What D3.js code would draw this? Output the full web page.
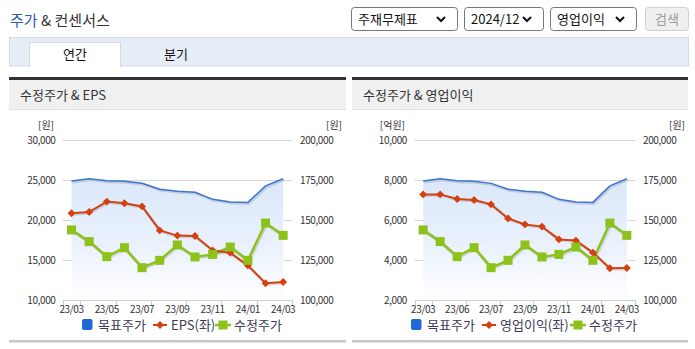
<!DOCTYPE html>
<html><head><meta charset="utf-8">
<script src="https://cdn.jsdelivr.net/npm/d3@7"></script>
<style>
html,body{margin:0;padding:0;background:#fff;}
svg{display:block;}
text{font-family:"Noto Sans CJK KR","Noto Sans",sans-serif;}
</style></head>
<body>
<svg id="c" width="695" height="349"></svg>
<script>
// ---- data ----
const months = ["23/03","23/04","23/05","23/06","23/07","23/08","23/09","23/10","23/11","23/12","24/01","24/02","24/03"];
const leftTickLabels  = ["23/03","23/05","23/07","23/09","23/11","24/01","24/03"];
const rightTickLabels = ["23/03","23/06","23/07","23/09","23/11","24/01","24/03"];
const targetPrice   = [174400,175800,174600,174200,172900,169200,167900,167300,162900,161300,161000,171300,175800];
const adjPrice      = [143800,136500,127100,132700,120200,124800,134400,126900,128500,133100,124800,148100,140400];
const eps           = [20850,21000,22300,22100,21700,18700,18050,18000,16200,15900,14300,12100,12250];
const opIncome      = [7280,7280,7050,7000,6780,6080,5780,5670,5030,4970,4370,3590,3600];
const epsTicks      = [10000,15000,20000,25000,30000];
const opTicks       = [2000,4000,6000,8000,10000];
const priceTicks    = [100000,125000,150000,175000,200000];

const svg = d3.select("#c");
const fmt = d3.format(",");
const NUMFONT = "Liberation Sans, Arial, sans-serif";

// ---- header ----
const title = svg.append("text").attr("x",10).attr("y",26).attr("font-size",15);
title.append("tspan").attr("fill","#2a5db0").text("주가");
title.append("tspan").attr("fill","#333").text(" & 컨센서스");

// selects
function selectBox(x,w,label){
  svg.append("rect").attr("x",x+0.5).attr("y",7.5).attr("width",w).attr("height",23).attr("rx",3)
    .attr("fill","#fff").attr("stroke","#767676");
  svg.append("text").attr("x",x+7).attr("y",24).attr("font-size",13).attr("fill","#111").text(label);
  const cx = x+w-16, cy=19;
  svg.append("path").attr("d",`M${cx-4},${cy-2}L${cx},${cy+2}L${cx+4},${cy-2}`)
    .attr("fill","none").attr("stroke","#111").attr("stroke-width",2);
}
selectBox(351,106,"주재무제표");
selectBox(464,79,"2024/12");
selectBox(550,86,"영업이익");
svg.append("rect").attr("x",645.5).attr("y",7.5).attr("width",43).attr("height",23).attr("rx",3)
  .attr("fill","#efefef").attr("stroke","#d0d0d0");
svg.append("text").attr("x",667).attr("y",24).attr("text-anchor","middle").attr("font-size",13).attr("fill","#9a9a9a").text("검색");

// tabs
svg.append("rect").attr("x",9.5).attr("y",37.5).attr("width",679).attr("height",28.5)
  .attr("fill","#e8eef8").attr("stroke","#d3dbe8");
svg.append("rect").attr("x",29.5).attr("y",42.5).attr("width",91).attr("height",24)
  .attr("fill","#fff").attr("stroke","#d3dbe8");
svg.append("rect").attr("x",30).attr("y",65).attr("width",90).attr("height",2).attr("fill","#fff");
svg.append("text").attr("x",75).attr("y",59).attr("text-anchor","middle").attr("font-size",13).attr("fill","#111").text("연간");
svg.append("text").attr("x",176).attr("y",59).attr("text-anchor","middle").attr("font-size",13).attr("fill","#111").text("분기");

// ---- panels ----
function panel(cfg){
  const g = svg.append("g");
  g.append("rect").attr("x",cfg.px0).attr("y",77).attr("width",cfg.px1-cfg.px0).attr("height",3).attr("fill","#333");
  g.append("rect").attr("x",cfg.px0).attr("y",80).attr("width",cfg.px1-cfg.px0).attr("height",29).attr("fill","#f0f0f0");
  g.append("rect").attr("x",cfg.px0).attr("y",109).attr("width",cfg.px1-cfg.px0).attr("height",1).attr("fill","#e2e2e2");
  g.append("text").attr("x",cfg.px0+11).attr("y",100).attr("font-size",13).attr("fill","#333").text(cfg.title);
  g.append("rect").attr("x",cfg.px0).attr("y",340).attr("width",cfg.px1-cfg.px0).attr("height",2.5).attr("fill","#c8c8c8");

  const x = d3.scaleBand().domain(months).range([cfg.x0,cfg.x1]).padding(0);
  const cx = d => x(d)+x.bandwidth()/2;
  const yL = d3.scaleLinear().domain([cfg.lTicks[0],cfg.lTicks[cfg.lTicks.length-1]]).range([300,140]);
  const yR = d3.scaleLinear().domain([priceTicks[0],priceTicks[priceTicks.length-1]]).range([300,140]);

  // gridlines
  g.selectAll(".grid").data(cfg.lTicks.slice(1)).join("line")
    .attr("x1",cfg.x0).attr("x2",cfg.x1).attr("y1",d=>Math.round(yL(d))+0.5).attr("y2",d=>Math.round(yL(d))+0.5)
    .attr("stroke","#d8d8d8");

  // axis labels
  const la = d3.axisLeft(yL).tickValues(cfg.lTicks).tickFormat(fmt).tickSize(0).tickPadding(0);
  const lg = g.append("g").attr("transform",`translate(${cfg.lLabelX},0)`).call(la);
  lg.select(".domain").remove();
  lg.selectAll("text").attr("font-size",10).attr("fill","#333").attr("letter-spacing","-0.4").attr("font-family",NUMFONT);
  const ra = d3.axisRight(yR).tickValues(priceTicks).tickFormat(fmt).tickSize(0).tickPadding(0);
  const rg = g.append("g").attr("transform",`translate(${cfg.rLabelX},0)`).call(ra);
  rg.select(".domain").remove();
  rg.selectAll("text").attr("font-size",10).attr("fill","#333").attr("letter-spacing","-0.4").attr("font-family",NUMFONT);
  g.append("text").attr("x",cfg.lUnitX).attr("y",129).attr("text-anchor","end").attr("font-size",10).attr("fill","#333").text(cfg.lUnit);
  g.append("text").attr("x",cfg.rUnitX).attr("y",129).attr("text-anchor","end").attr("font-size",10).attr("fill","#333").text("[원]");

  // area gradient
  const gid = "grad"+cfg.id;
  const grad = svg.append("defs").append("linearGradient").attr("id",gid)
    .attr("gradientUnits","userSpaceOnUse").attr("x1",0).attr("x2",0).attr("y1",180).attr("y2",300);
  grad.append("stop").attr("offset",0).attr("stop-color","#dbe8fa");
  grad.append("stop").attr("offset",0.55).attr("stop-color","#eaf1fc");
  grad.append("stop").attr("offset",1).attr("stop-color","#ffffff");

  const area = d3.area().x((d,i)=>cx(months[i])).y0(300).y1(d=>yR(d));
  g.append("path").datum(targetPrice).attr("d",area).attr("fill",`url(#${gid})`);
  const lineR = d3.line().x((d,i)=>cx(months[i])).y(d=>yR(d));
  const lineL = d3.line().x((d,i)=>cx(months[i])).y(d=>yL(d));
  g.append("path").datum(targetPrice).attr("d",lineR).attr("fill","none").attr("stroke","rgba(0,0,0,0.12)").attr("stroke-width",3).attr("transform","translate(1,1)");
  g.append("path").datum(targetPrice).attr("d",lineR).attr("fill","none").attr("stroke","#3b76d6").attr("stroke-width",1.5);

  // x axis
  g.append("line").attr("x1",cfg.x0).attr("x2",cfg.x1).attr("y1",300.5).attr("y2",300.5).attr("stroke","#c3d0e3");
  const tickPos = [cfg.x0].concat(months.filter((m,i)=>i%2===1).map(m=>x(m))).concat([cfg.x1]);
  g.selectAll(".xt").data(tickPos).join("line")
    .attr("x1",d=>Math.round(d)+0.5).attr("x2",d=>Math.round(d)+0.5).attr("y1",300).attr("y2",306).attr("stroke","#c3d0e3");
  const labMonths = months.filter((m,i)=>i%2===0);
  g.selectAll(".xl").data(labMonths).join("text")
    .attr("x",d=>cx(d)).attr("y",313).attr("text-anchor","middle").attr("font-size",10).attr("letter-spacing","-0.4")
    .attr("font-family",NUMFONT).attr("fill","#333")
    .text((d,i)=>cfg.tickLabels[i]);

  // green adjusted price
  g.append("path").datum(adjPrice).attr("d",lineR).attr("fill","none").attr("stroke","rgba(0,0,0,0.12)").attr("stroke-width",3.5).attr("transform","translate(1,1)");
  g.append("path").datum(adjPrice).attr("d",lineR).attr("fill","none").attr("stroke","#8cc21a").attr("stroke-width",2.5);
  // red
  g.append("path").datum(cfg.lData).attr("d",lineL).attr("fill","none").attr("stroke","rgba(0,0,0,0.12)").attr("stroke-width",3).attr("transform","translate(1,1)");
  g.append("path").datum(cfg.lData).attr("d",lineL).attr("fill","none").attr("stroke","#d4400f").attr("stroke-width",2);
  g.selectAll(".dm").data(cfg.lData).join("path")
    .attr("d",d3.symbol(d3.symbolDiamond2,40)())
    .attr("transform",(d,i)=>`translate(${cx(months[i])},${yL(d)})`).attr("fill","#d4400f");
  g.selectAll(".sq").data(adjPrice).join("rect")
    .attr("x",(d,i)=>cx(months[i])-4.5).attr("y",d=>yR(d)-4.5).attr("width",9).attr("height",9).attr("fill","#8cc21a");

  // legend
  const L = cfg.leg;
  g.append("rect").attr("x",L[0]).attr("y",319).attr("width",10.5).attr("height",11).attr("rx",2).attr("fill","#1f68d8");
  g.append("text").attr("x",L[0]+16).attr("y",330).attr("font-size",13).attr("fill","#3a3a55").text("목표주가");
  g.append("line").attr("x1",L[1]).attr("x2",L[1]+14).attr("y1",325).attr("y2",325).attr("stroke","#d4400f").attr("stroke-width",2);
  g.append("path").attr("d",d3.symbol(d3.symbolDiamond2,40)()).attr("transform",`translate(${L[1]+7},325)`).attr("fill","#d4400f");
  g.append("text").attr("x",L[1]+18).attr("y",330).attr("font-size",13).attr("fill","#3a3a55").text(cfg.lName);
  g.append("line").attr("x1",L[2]).attr("x2",L[2]+16).attr("y1",325).attr("y2",325).attr("stroke","#8cc21a").attr("stroke-width",2.5);
  g.append("rect").attr("x",L[2]+3.5).attr("y",320.5).attr("width",9).attr("height",9).attr("fill","#8cc21a");
  g.append("text").attr("x",L[2]+19).attr("y",330).attr("font-size",13).attr("fill","#3a3a55").text("수정주가");
}

panel({id:"L",px0:9,px1:346,title:"수정주가 & EPS",x0:62.7,x1:292,lTicks:epsTicks,lData:eps,
  lLabelX:55.5,rLabelX:300,lUnit:"[원]",lUnitX:54,rUnitX:342,tickLabels:leftTickLabels,
  lName:"EPS(좌)",leg:[82,153,215]});
panel({id:"R",px0:352,px1:688,title:"수정주가 & 영업이익",x0:414.7,x1:635.3,lTicks:opTicks,lData:opIncome,
  lLabelX:407,rLabelX:643,lUnit:"[억원]",lUnitX:405,rUnitX:685,tickLabels:rightTickLabels,
  lName:"영업이익(좌)",leg:[411,482,570]});
</script>
</body></html>
